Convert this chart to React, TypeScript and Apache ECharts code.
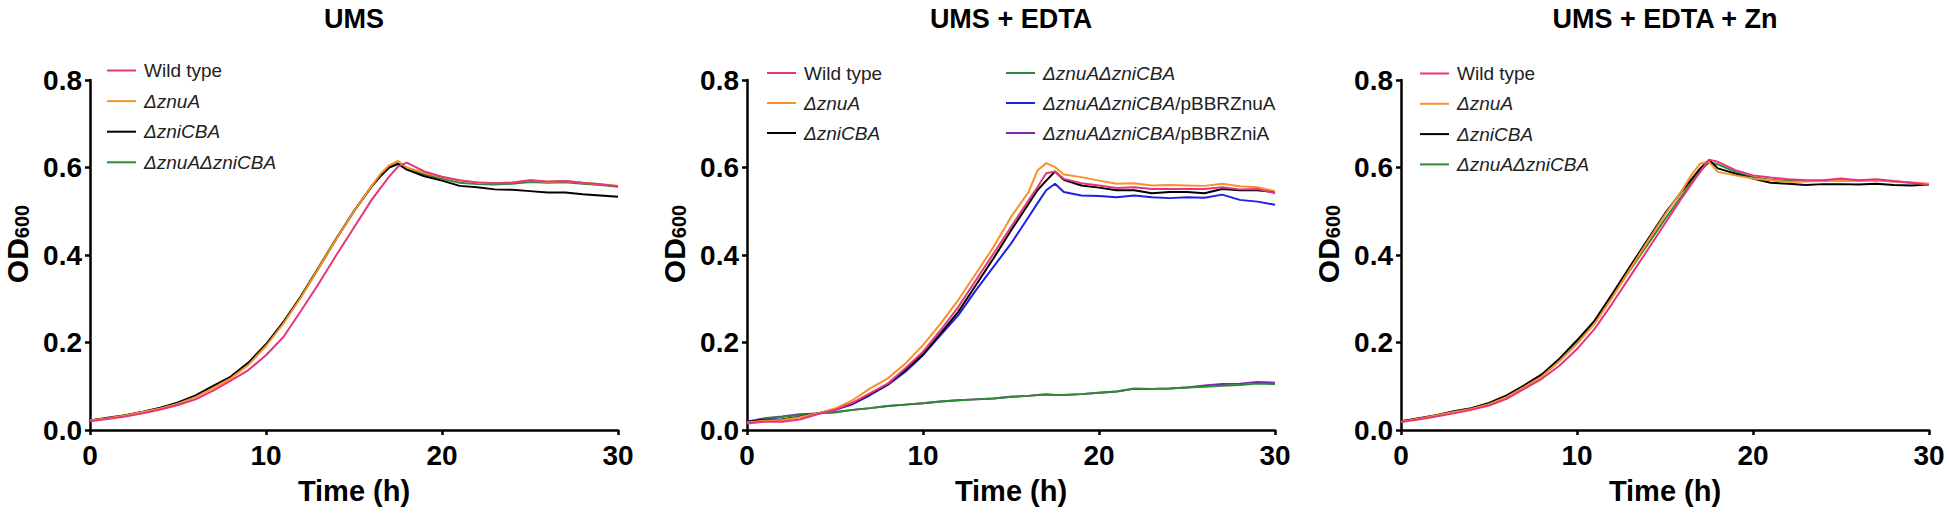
import React, { useEffect, useRef } from "react";
import * as echarts from "echarts";

// Time points (h)
const TIME_H = [0, 1, 2, 3, 4, 5, 6, 7, 8, 9, 10, 11, 12, 13, 14, 15, 16, 16.5, 17, 17.5, 18, 19, 20, 21, 22, 23, 24, 25, 26, 27, 28, 29, 30];

const X_TICKS = [0, 10, 20, 30];
const Y_TICKS = [0, 0.2, 0.4, 0.6, 0.8];

const PANEL_TITLES = ["UMS", "UMS + EDTA", "UMS + EDTA + Zn"];

const NAMES = {
  wt: "Wild type",
  znuA: "ΔznuA",
  zniCBA: "ΔzniCBA",
  dbl: "ΔznuAΔzniCBA",
  cZnuA: "ΔznuAΔzniCBA/pBBRZnuA",
  cZniA: "ΔznuAΔzniCBA/pBBRZniA",
};

const COLORS = {
  wt: "#e8337f",
  znuA: "#f7922a",
  zniCBA: "#000000",
  dbl: "#2e8b35",
  cZnuA: "#1f1fe6",
  cZniA: "#7a28a8",
};

// Panel 1: UMS
const UMS_WT = [0.020, 0.025, 0.031, 0.038, 0.047, 0.057, 0.070, 0.090, 0.113, 0.137, 0.171, 0.213, 0.273, 0.335, 0.400, 0.463, 0.526, 0.553, 0.579, 0.602, 0.611, 0.591, 0.579, 0.571, 0.566, 0.564, 0.565, 0.571, 0.568, 0.569, 0.565, 0.562, 0.557];
const UMS_ZNUA = [0.022, 0.027, 0.033, 0.041, 0.049, 0.060, 0.075, 0.096, 0.118, 0.149, 0.192, 0.244, 0.304, 0.371, 0.437, 0.500, 0.558, 0.585, 0.605, 0.615, 0.600, 0.588, 0.578, 0.570, 0.566, 0.564, 0.566, 0.571, 0.567, 0.569, 0.565, 0.562, 0.558];
const UMS_ZNICBA = [0.022, 0.028, 0.034, 0.042, 0.051, 0.063, 0.079, 0.101, 0.122, 0.154, 0.196, 0.247, 0.306, 0.371, 0.437, 0.500, 0.557, 0.580, 0.600, 0.608, 0.595, 0.580, 0.570, 0.558, 0.555, 0.550, 0.549, 0.546, 0.543, 0.543, 0.539, 0.536, 0.533];
const UMS_DBL = [0.022, 0.027, 0.033, 0.041, 0.050, 0.061, 0.077, 0.098, 0.120, 0.152, 0.195, 0.247, 0.307, 0.373, 0.439, 0.501, 0.557, 0.582, 0.601, 0.610, 0.598, 0.584, 0.574, 0.565, 0.562, 0.561, 0.563, 0.567, 0.565, 0.566, 0.563, 0.560, 0.556];

// Panel 2: UMS + EDTA
const EDTA_WT = [0.015, 0.019, 0.019, 0.024, 0.036, 0.046, 0.062, 0.084, 0.106, 0.141, 0.179, 0.228, 0.281, 0.342, 0.403, 0.464, 0.525, 0.555, 0.587, 0.591, 0.574, 0.564, 0.559, 0.553, 0.555, 0.551, 0.551, 0.551, 0.551, 0.555, 0.550, 0.551, 0.541];
const EDTA_ZNUA = [0.017, 0.021, 0.023, 0.029, 0.038, 0.049, 0.068, 0.095, 0.118, 0.152, 0.194, 0.243, 0.297, 0.357, 0.418, 0.487, 0.544, 0.593, 0.610, 0.601, 0.584, 0.578, 0.570, 0.563, 0.564, 0.559, 0.560, 0.559, 0.558, 0.563, 0.557, 0.555, 0.546];
const EDTA_ZNICBA = [0.019, 0.023, 0.024, 0.030, 0.038, 0.047, 0.061, 0.082, 0.105, 0.137, 0.173, 0.221, 0.270, 0.331, 0.392, 0.456, 0.517, 0.548, 0.570, 0.591, 0.572, 0.559, 0.554, 0.548, 0.548, 0.541, 0.544, 0.544, 0.541, 0.551, 0.548, 0.548, 0.544];
const EDTA_DBL = [0.019, 0.025, 0.030, 0.034, 0.038, 0.040, 0.046, 0.050, 0.055, 0.058, 0.061, 0.065, 0.068, 0.070, 0.072, 0.076, 0.078, 0.080, 0.081, 0.080, 0.080, 0.082, 0.085, 0.088, 0.095, 0.094, 0.095, 0.097, 0.099, 0.101, 0.103, 0.106, 0.105];
const EDTA_CZNUA = [0.019, 0.023, 0.024, 0.030, 0.037, 0.046, 0.059, 0.080, 0.103, 0.133, 0.171, 0.217, 0.262, 0.319, 0.373, 0.426, 0.487, 0.518, 0.548, 0.563, 0.544, 0.536, 0.535, 0.532, 0.536, 0.532, 0.530, 0.532, 0.531, 0.538, 0.526, 0.522, 0.515];
const EDTA_CZNIA = [0.019, 0.027, 0.031, 0.036, 0.038, 0.041, 0.046, 0.050, 0.055, 0.058, 0.061, 0.065, 0.068, 0.070, 0.072, 0.076, 0.078, 0.080, 0.081, 0.080, 0.080, 0.082, 0.085, 0.088, 0.094, 0.094, 0.095, 0.097, 0.102, 0.105, 0.106, 0.110, 0.108];

// Panel 3: UMS + EDTA + Zn
const ZN_WT = [0.018, 0.024, 0.031, 0.038, 0.046, 0.056, 0.071, 0.094, 0.117, 0.147, 0.185, 0.231, 0.289, 0.350, 0.411, 0.472, 0.533, 0.562, 0.590, 0.618, 0.613, 0.594, 0.582, 0.577, 0.573, 0.571, 0.571, 0.575, 0.571, 0.573, 0.569, 0.565, 0.560];
const ZN_ZNUA = [0.019, 0.026, 0.033, 0.041, 0.048, 0.059, 0.075, 0.098, 0.122, 0.157, 0.197, 0.243, 0.303, 0.367, 0.430, 0.492, 0.550, 0.583, 0.609, 0.613, 0.590, 0.582, 0.575, 0.571, 0.567, 0.568, 0.569, 0.570, 0.569, 0.571, 0.568, 0.566, 0.563];
const ZN_ZNICBA = [0.020, 0.027, 0.034, 0.043, 0.050, 0.062, 0.079, 0.102, 0.127, 0.163, 0.205, 0.250, 0.311, 0.373, 0.434, 0.495, 0.548, 0.573, 0.598, 0.617, 0.598, 0.586, 0.575, 0.565, 0.563, 0.560, 0.562, 0.562, 0.561, 0.563, 0.560, 0.559, 0.561];
const ZN_DBL = [0.019, 0.026, 0.033, 0.042, 0.049, 0.060, 0.077, 0.100, 0.125, 0.160, 0.200, 0.246, 0.305, 0.365, 0.423, 0.482, 0.538, 0.566, 0.592, 0.612, 0.607, 0.590, 0.578, 0.572, 0.569, 0.569, 0.570, 0.571, 0.570, 0.571, 0.568, 0.565, 0.562];

type Key = keyof typeof NAMES;

const PANEL_SERIES: { key: Key; values: number[] }[][] = [
  [
    { key: "dbl", values: UMS_DBL },
    { key: "zniCBA", values: UMS_ZNICBA },
    { key: "znuA", values: UMS_ZNUA },
    { key: "wt", values: UMS_WT },
  ],
  [
    { key: "cZniA", values: EDTA_CZNIA },
    { key: "dbl", values: EDTA_DBL },
    { key: "cZnuA", values: EDTA_CZNUA },
    { key: "zniCBA", values: EDTA_ZNICBA },
    { key: "znuA", values: EDTA_ZNUA },
    { key: "wt", values: EDTA_WT },
  ],
  [
    { key: "dbl", values: ZN_DBL },
    { key: "zniCBA", values: ZN_ZNICBA },
    { key: "znuA", values: ZN_ZNUA },
    { key: "wt", values: ZN_WT },
  ],
];

const FONT = "'Liberation Sans', Arial, Helvetica, sans-serif";

const GRID_LEFTS = [90, 747, 1401];
const GRID_TOP = 80;
const GRID_W = 528;
const GRID_H = 350;

function legendFormatter(name: string): string {
  if (name === NAMES.wt) return `{n|${name}}`;
  const idx = name.indexOf("/");
  if (idx < 0) return `{i|${name}}`;
  return `{i|${name.slice(0, idx)}}{m|${name.slice(idx)}}`;
}

const legendRich = {
  n: { fontSize: 19, fontFamily: FONT, color: "#222", lineHeight: 14, padding: [0, 0, 0, 3] },
  i: { fontSize: 19, fontFamily: FONT, color: "#222", fontStyle: "italic", lineHeight: 14, padding: [0, 0, 0, 3] },
  m: { fontSize: 19, fontFamily: FONT, color: "#222", lineHeight: 14 },
};

function makeLegend(names: string[], left: number, top: number, pitch: number) {
  return {
    orient: "vertical",
    left,
    top,
    padding: 0,
    icon: "path://M0 0 H29 V2 H0 Z",
    itemWidth: 29,
    itemHeight: 2.2,
    itemGap: pitch - 14,
    data: names.map((n) => ({ name: n, icon: "path://M0 0 H29 V2 H0 Z" })),
    formatter: legendFormatter,
    selectedMode: false,
    textStyle: { fontSize: 19, fontFamily: FONT, color: "#222", lineHeight: 14, rich: legendRich },
  };
}

export default function App() {
  const ref = useRef<HTMLDivElement>(null);

  useEffect(() => {
    if (!ref.current) return;
    const chart = echarts.init(ref.current, undefined, { renderer: "svg" });

    const grids = GRID_LEFTS.map((left) => ({ left, top: GRID_TOP, width: GRID_W, height: GRID_H }));

    const axisLine = { show: true, lineStyle: { color: "#000", width: 2.5 } };
    const axisTick = { show: true, length: 5, inside: false, lineStyle: { color: "#000", width: 2.5 } };
    const labelStyle = { fontSize: 28, fontWeight: "bold", fontFamily: FONT, color: "#000" };

    const xAxes = GRID_LEFTS.map((_, i) => ({
      type: "value",
      gridIndex: i,
      min: X_TICKS[0],
      max: X_TICKS[X_TICKS.length - 1],
      interval: X_TICKS[1] - X_TICKS[0],
      axisLine,
      axisTick,
      splitLine: { show: false },
      axisLabel: { ...labelStyle, margin: 11 },
    }));

    const yAxes = GRID_LEFTS.map((_, i) => ({
      type: "value",
      gridIndex: i,
      min: Y_TICKS[0],
      max: Y_TICKS[Y_TICKS.length - 1],
      interval: 0.2,
      axisLine,
      axisTick,
      splitLine: { show: false },
      axisLabel: { ...labelStyle, margin: 8, formatter: (v: number) => v.toFixed(1) },
    }));

    const series: any[] = [];
    PANEL_SERIES.forEach((list, p) => {
      list.forEach((s, k) => {
        series.push({
          type: "line",
          name: NAMES[s.key],
          xAxisIndex: p,
          yAxisIndex: p,
          data: TIME_H.map((t, j) => [t, s.values[j]]),
          symbol: "none",
          showSymbol: false,
          lineStyle: { width: 2, color: COLORS[s.key] },
          itemStyle: { color: COLORS[s.key] },
          z: 2 + k,
        });
      });
    });

    const graphics: any[] = [];
    GRID_LEFTS.forEach((left, i) => {
      const cx = left + GRID_W / 2;
      graphics.push({
        type: "text",
        x: cx,
        y: 19,
        style: {
          text: PANEL_TITLES[i],
          align: "center",
          verticalAlign: "middle",
          fontSize: 27,
          fontWeight: "bold",
          fontFamily: FONT,
          fill: "#000",
        },
      });
      graphics.push({
        type: "text",
        x: cx,
        y: 491,
        style: {
          text: "Time (h)",
          align: "center",
          verticalAlign: "middle",
          fontSize: 29,
          fontWeight: "bold",
          fontFamily: FONT,
          fill: "#000",
        },
      });
      graphics.push({
        type: "text",
        x: left - 73,
        y: 244,
        rotation: Math.PI / 2,
        style: {
          text: "{a|OD}{b|600}",
          align: "center",
          verticalAlign: "middle",
          fill: "#000",
          rich: {
            a: { fontSize: 30, fontWeight: "bold", fontFamily: FONT, fill: "#000", lineHeight: 30, verticalAlign: "bottom" },
            b: { fontSize: 20, fontWeight: "bold", fontFamily: FONT, fill: "#000", lineHeight: 20, verticalAlign: "bottom" },
          },
        },
      });
    });

    const legends = [
      makeLegend([NAMES.wt, NAMES.znuA, NAMES.zniCBA, NAMES.dbl], 107, 61, 25.6),
      makeLegend([NAMES.wt, NAMES.znuA, NAMES.zniCBA], 767, 63.5, 25),
      makeLegend([NAMES.dbl, NAMES.cZnuA, NAMES.cZniA], 1006, 63.5, 25),
      makeLegend([NAMES.wt, NAMES.znuA, NAMES.zniCBA, NAMES.dbl], 1420, 64, 25.3),
    ];

    chart.setOption({
      animation: false,
      backgroundColor: "#fff",
      grid: grids,
      xAxis: xAxes,
      yAxis: yAxes,
      legend: legends,
      series,
      graphic: graphics,
    });

    return () => chart.dispose();
  }, []);

  return (
    <div
      ref={ref}
      style={{ position: "absolute", left: 0, top: 0, width: 1949, height: 524, background: "#fff" }}
    />
  );
}
